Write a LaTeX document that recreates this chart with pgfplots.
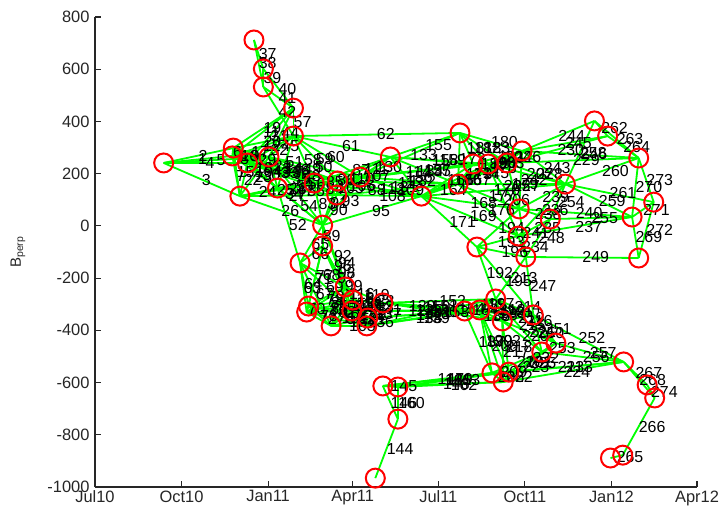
\documentclass[border=0pt]{standalone}
\usepackage{pgfplots}
\pgfplotsset{compat=1.18}
\usepackage{pgfplotstable}
\usepackage{fontspec}
\setmainfont{Liberation Sans}
\setsansfont{Liberation Sans}
\definecolor{mgreen}{RGB}{0,255,0}
\definecolor{mred}{RGB}{255,0,0}
\definecolor{axgray}{RGB}{38,38,38}

\pgfplotstableread{
x y
169 712
179 601
179 532
211 451
211 344
73 241
147 298
146 268
162 241
185 264
154 114
194 145
233 164
258 172
257 118
282 187
314 264
242 3
242 -77
218 -142
266 -234
274 -284
227 -307
225 -330
273 -326
251 -383
306 -295
290 -353
289 -383
347 114
388 356
386 160
402 237
418 237
438 241
454 287
500 160
531 402
545 344
578 260
451 65
484 26
594 91
571 34
450 -39
406 -81
458 -119
578 -123
426 -280
393 -326
409 -322
433 -364
466 -341
490 -449
475 -483
422 -563
440 -560
434 -598
306 -613
322 -617
322 -740
298 -966
562 -521
587 -609
595 -659
548 -889
561 -878
}\nodestab

\pgfplotstableread{
x1 y1 x2 y2 lab
73 241 146 268 1
73 241 147 298 2
73 241 154 114 3
73 241 162 241 4
73 241 185 264 5
146 268 147 298 6
146 268 154 114 7
146 268 162 241 8
146 268 185 264 9
146 268 194 145 10
146 268 211 451 11
146 268 211 344 12
146 268 233 164 13
146 268 258 172 14
147 298 154 114 15
147 298 162 241 16
147 298 185 264 17
147 298 194 145 18
147 298 211 451 19
147 298 211 344 20
147 298 233 164 21
154 114 162 241 22
154 114 185 264 23
154 114 194 145 24
154 114 233 164 25
154 114 242 3 26
154 114 257 118 27
154 114 258 172 28
162 241 185 264 29
162 241 194 145 30
162 241 211 451 31
162 241 211 344 32
162 241 233 164 33
162 241 242 3 34
162 241 257 118 35
162 241 258 172 36
169 712 179 601 37
169 712 179 532 38
179 601 179 532 39
179 601 211 451 40
179 532 211 451 41
179 532 211 344 42
185 264 194 145 43
185 264 211 451 44
185 264 211 344 45
185 264 233 164 46
185 264 242 3 47
185 264 257 118 48
185 264 258 172 49
185 264 282 187 50
194 145 211 344 51
194 145 218 -142 52
194 145 233 164 53
194 145 242 3 54
194 145 257 118 55
194 145 258 172 56
211 451 211 344 57
211 344 233 164 58
211 344 258 172 59
211 344 282 187 60
211 344 314 264 61
211 344 388 356 62
218 -142 225 -330 63
218 -142 227 -307 64
218 -142 242 3 65
218 -142 242 -77 66
218 -142 251 -383 67
218 -142 266 -234 68
218 -142 273 -326 69
225 -330 227 -307 70
225 -330 242 -77 71
225 -330 251 -383 72
225 -330 266 -234 73
225 -330 273 -326 74
225 -330 274 -284 75
225 -330 289 -383 76
227 -307 242 -77 77
227 -307 251 -383 78
227 -307 266 -234 79
227 -307 273 -326 80
227 -307 274 -284 81
227 -307 290 -353 82
233 164 242 3 83
233 164 257 118 84
233 164 258 172 85
233 164 282 187 86
233 164 314 264 87
233 164 347 114 88
242 3 242 -77 89
242 3 257 118 90
242 3 258 172 91
242 3 266 -234 92
242 3 282 187 93
242 3 274 -284 94
242 3 347 114 95
242 -77 266 -234 96
242 -77 273 -326 97
242 -77 274 -284 98
242 -77 289 -383 99
251 -383 266 -234 100
251 -383 273 -326 101
251 -383 274 -284 102
251 -383 289 -383 103
251 -383 290 -353 104
257 118 258 172 105
257 118 282 187 106
257 118 314 264 107
257 118 347 114 108
257 118 386 160 109
258 172 282 187 110
258 172 314 264 111
258 172 347 114 112
258 172 386 160 113
258 172 402 237 114
266 -234 273 -326 115
266 -234 274 -284 116
266 -234 289 -383 117
266 -234 290 -353 118
266 -234 306 -295 119
273 -326 274 -284 120
273 -326 289 -383 121
273 -326 290 -353 122
273 -326 306 -295 123
273 -326 393 -326 124
273 -326 409 -322 125
274 -284 289 -383 126
274 -284 290 -353 127
274 -284 306 -295 128
274 -284 393 -326 129
282 187 314 264 130
282 187 347 114 131
282 187 386 160 132
282 187 388 356 133
282 187 402 237 134
282 187 418 237 135
289 -383 290 -353 136
289 -383 306 -295 137
289 -383 393 -326 138
289 -383 409 -322 139
289 -383 426 -280 140
290 -353 306 -295 141
290 -353 393 -326 142
290 -353 409 -322 143
298 -966 322 -740 144
306 -613 322 -617 145
306 -613 322 -740 146
306 -613 422 -563 147
306 -613 434 -598 148
306 -613 440 -560 149
306 -295 393 -326 150
306 -295 409 -322 151
306 -295 426 -280 152
306 -295 433 -364 153
306 -295 466 -341 154
314 264 388 356 155
314 264 347 114 156
314 264 386 160 157
314 264 402 237 158
314 264 418 237 159
322 -617 322 -740 160
322 -617 422 -563 161
322 -617 434 -598 162
322 -617 440 -560 163
347 114 386 160 164
347 114 402 237 165
347 114 418 237 166
347 114 438 241 167
347 114 451 65 168
347 114 450 -39 169
347 114 500 160 170
347 114 406 -81 171
386 160 388 356 172
386 160 402 237 173
386 160 418 237 174
386 160 438 241 175
386 160 450 -39 176
386 160 451 65 177
386 160 454 287 178
386 160 500 160 179
388 356 454 287 180
388 356 402 237 181
388 356 418 237 182
388 356 438 241 183
393 -326 409 -322 184
393 -326 426 -280 185
393 -326 433 -364 186
393 -326 422 -563 187
393 -326 466 -341 188
402 237 418 237 189
402 237 438 241 190
402 237 454 287 191
406 -81 426 -280 192
406 -81 450 -39 193
406 -81 451 65 194
406 -81 466 -341 195
406 -81 458 -119 196
409 -322 426 -280 197
409 -322 433 -364 198
409 -322 422 -563 199
409 -322 434 -598 200
409 -322 466 -341 201
409 -322 440 -560 202
418 237 438 241 203
418 237 454 287 204
418 237 451 65 205
418 237 450 -39 206
418 237 500 160 207
422 -563 434 -598 208
422 -563 440 -560 209
422 -563 475 -483 210
422 -563 562 -521 211
426 -280 433 -364 212
426 -280 458 -119 213
426 -280 466 -341 214
426 -280 475 -483 215
426 -280 490 -449 216
433 -364 434 -598 217
433 -364 440 -560 218
433 -364 466 -341 219
433 -364 475 -483 220
433 -364 490 -449 221
434 -598 440 -560 222
434 -598 475 -483 223
434 -598 562 -521 224
434 -598 490 -449 225
438 241 454 287 226
438 241 451 65 227
438 241 500 160 228
438 241 578 260 229
438 241 545 344 230
440 -560 475 -483 231
440 -560 490 -449 232
440 -560 562 -521 233
450 -39 458 -119 234
450 -39 484 26 235
450 -39 500 160 236
450 -39 571 34 237
451 65 484 26 238
451 65 500 160 239
451 65 571 34 240
451 65 458 -119 241
451 65 454 287 242
454 287 500 160 243
454 287 531 402 244
454 287 545 344 245
454 287 578 260 246
458 -119 466 -341 247
458 -119 484 26 248
458 -119 578 -123 249
466 -341 475 -483 250
466 -341 490 -449 251
466 -341 562 -521 252
475 -483 490 -449 253
484 26 500 160 254
484 26 571 34 255
475 -483 562 -521 256
490 -449 562 -521 257
500 160 531 402 258
500 160 571 34 259
500 160 578 260 260
500 160 594 91 261
531 402 545 344 262
531 402 578 260 263
545 344 578 260 264
548 -889 561 -878 265
561 -878 595 -659 266
562 -521 587 -609 267
562 -521 595 -659 268
571 34 578 -123 269
571 34 578 260 270
571 34 594 91 271
578 -123 594 91 272
578 260 594 91 273
587 -609 595 -659 274
}\edgestab

\begin{document}
\begin{tikzpicture}
\begin{axis}[
  scale only axis, width=602bp, height=470bp,
  xmin=0, xmax=640, ymin=-1000, ymax=800,
  axis x line=bottom, axis y line=left,
  axis line style={-, axgray, line width=1.1bp},
  tick style={axgray, line width=1.1bp},
  tick align=inside, major tick length=6bp,
  xtick={0,92,184,274,365,457,549,640},
  xticklabels={Jul10,Oct10,Jan11,Apr11,Jul11,Oct11,Jan12,Apr12},
  ytick={-1000,-800,...,800},
  ticklabel style={font=\fontsize{16.5}{19}\selectfont, text=axgray},
  yticklabel style={xshift=-2bp},
  /pgf/number format/assume math mode=true,
  /pgf/number format/1000 sep={},
  ylabel={B\textsubscript{perp}},
  every axis y label/.style={at={(axis description cs:-0.128,0.5)}, rotate=90, anchor=center, font=\fontsize{15}{18}\selectfont, text=axgray},
  clip=false,
]
\addplot[mgreen, line width=1.8bp, quiver={u=\thisrow{x2}-\thisrow{x1}, v=\thisrow{y2}-\thisrow{y1}}] table[x=x1, y=y1] {\edgestab};
\addplot[draw=none, nodes near coords, point meta=explicit symbolic,
  nodes near coords align={anchor=west},
  every node near coord/.append style={anchor=west, inner sep=0pt, font=\fontsize{16}{19}\selectfont, text=black}]
  table[x expr={(\thisrow{x1}+\thisrow{x2})/2}, y expr={(\thisrow{y1}+\thisrow{y2})/2}, meta=lab] {\edgestab};
\addplot[only marks, mark=o, mark size=9.5bp, mred, mark options={line width=2bp, draw=mred}] table[x=x, y=y] {\nodestab};
\end{axis}
\pgfresetboundingbox
\path ([shift={(-95bp,-26bp)}]current axis.south west) rectangle ([shift={(24bp,17bp)}]current axis.north east);
\end{tikzpicture}
\end{document}
